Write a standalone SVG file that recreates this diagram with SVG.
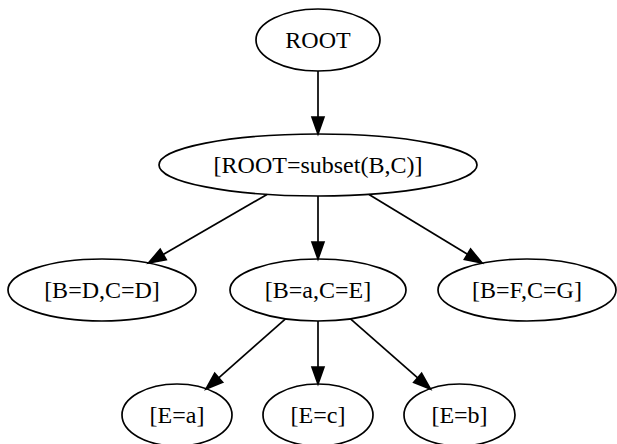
<svg xmlns="http://www.w3.org/2000/svg" width="617" height="444" viewBox="0 0 617 444">
  <style>
    .node ellipse { fill: none; stroke: #000; stroke-width: 1.7; }
    .node text { font-family: "Liberation Serif", "Times New Roman", serif; font-size: 24px; fill: #000; text-anchor: middle; }
    .edge { stroke: #000; stroke-width: 1.7; fill: none; marker-end: url(#arrow); }
  </style>
  <defs>
    <marker id="arrow" markerUnits="userSpaceOnUse" markerWidth="20" markerHeight="14" refX="0" refY="6" orient="auto" overflow="visible">
      <path d="M0,0 L17,6 L0,12 Z" fill="#000" stroke="#000" stroke-width="1.7"/>
    </marker>
  </defs>
  <rect width="617" height="444" fill="#fff"/>

  <!-- connectors -->
  <g id="edges">
    <line class="edge" x1="318" y1="71" x2="318" y2="117"/>
    <line class="edge" x1="267" y1="194.4" x2="163.2" y2="254.5"/>
    <line class="edge" x1="318" y1="196" x2="318" y2="242"/>
    <line class="edge" x1="369" y1="194.4" x2="467.5" y2="254.2"/>
    <line class="edge" x1="285.5" y1="318.8" x2="218.7" y2="377.8"/>
    <line class="edge" x1="318" y1="321" x2="318" y2="367"/>
    <line class="edge" x1="350.5" y1="318.8" x2="417.7" y2="377.8"/>
  </g>

  <!-- nodes -->
  <g id="root" class="node">
    <ellipse cx="318" cy="40" rx="62" ry="31"/>
    <text x="318" y="48">ROOT</text>
  </g>
  <g id="subset" class="node">
    <ellipse cx="318" cy="165" rx="159" ry="31"/>
    <text x="318" y="173">[ROOT=subset(B,C)]</text>
  </g>
  <g id="bd_cd" class="node">
    <ellipse cx="102" cy="290" rx="94" ry="31"/>
    <text x="102" y="298">[B=D,C=D]</text>
  </g>
  <g id="ba_ce" class="node">
    <ellipse cx="318" cy="290" rx="88" ry="31"/>
    <text x="318" y="298">[B=a,C=E]</text>
  </g>
  <g id="bf_cg" class="node">
    <ellipse cx="527" cy="290" rx="89" ry="31"/>
    <text x="527" y="298">[B=F,C=G]</text>
  </g>
  <g id="e_a" class="node">
    <ellipse cx="177" cy="415" rx="55" ry="31"/>
    <text x="177" y="423">[E=a]</text>
  </g>
  <g id="e_c" class="node">
    <ellipse cx="318" cy="415" rx="55" ry="31"/>
    <text x="318" y="423">[E=c]</text>
  </g>
  <g id="e_b" class="node">
    <ellipse cx="459.5" cy="415" rx="55.5" ry="31"/>
    <text x="459.5" y="423">[E=b]</text>
  </g>
</svg>
